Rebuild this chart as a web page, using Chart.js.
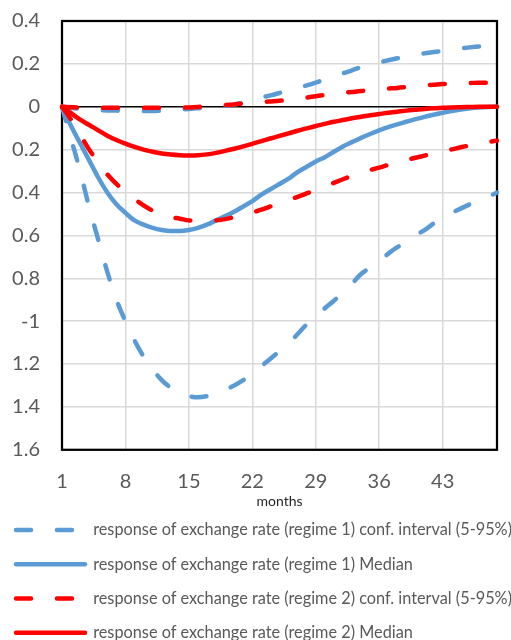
<!DOCTYPE html>
<html>
<head>
<meta charset="utf-8">
<script src="https://cdn.jsdelivr.net/npm/chart.js@4/dist/chart.umd.min.js"></script>
<style>
  html, body { margin: 0; padding: 0; background: #fff; overflow: hidden; }
  #wrap { position: absolute; left: 0; top: 0; width: 511px; height: 651px; }
</style>
</head>
<body>
<div id="wrap"><canvas id="c" width="511" height="651"></canvas></div>
<script>
// Months after the shock
const months = ['1','2','3','4','5','6','7','8','9','10','11','12','13','14','15','16','17','18','19','20',
  '21','22','23','24','25','26','27','28','29','30','31','32','33','34','35','36','37','38','39','40',
  '41','42','43','44','45','46','47','48','49'];

// Y tick labels, top to bottom, as printed on the axis
const yTickLabels = ['0.4','0.2','0','0.2','0.4','0.6','0.8','-1','1.2','1.4','1.6'];

// Regime 1: confidence band (5-95%) and median
const r1Lower = [0,-0.15,-0.30,-0.47,-0.62,-0.77,-0.90,-1.00,-1.09,-1.165,-1.225,-1.275,-1.31,-1.335,-1.35,-1.355,-1.35,-1.34,-1.32,-1.30,
  -1.275,-1.245,-1.21,-1.175,-1.14,-1.105,-1.06,-1.015,-0.98,-0.94,-0.905,-0.865,-0.825,-0.78,-0.75,-0.72,-0.685,-0.655,-0.63,-0.60,
  -0.575,-0.545,-0.52,-0.495,-0.475,-0.455,-0.44,-0.42,-0.40];
const r1Upper = [0,-0.005,-0.01,-0.012,-0.015,-0.017,-0.018,-0.02,-0.02,-0.02,-0.02,-0.018,-0.016,-0.013,-0.01,-0.007,-0.004,0,0.004,0.01,
  0.02,0.032,0.043,0.053,0.064,0.074,0.088,0.1,0.113,0.127,0.141,0.156,0.17,0.185,0.197,0.207,0.217,0.226,0.234,0.242,
  0.249,0.255,0.261,0.267,0.272,0.277,0.281,0.283,0.285];
const r1Median = [0,-0.09,-0.17,-0.25,-0.33,-0.40,-0.455,-0.495,-0.53,-0.55,-0.565,-0.575,-0.58,-0.58,-0.575,-0.565,-0.55,-0.53,-0.51,-0.49,
  -0.465,-0.44,-0.41,-0.385,-0.36,-0.335,-0.305,-0.28,-0.255,-0.235,-0.21,-0.185,-0.165,-0.145,-0.127,-0.11,-0.095,-0.082,-0.07,-0.058,
  -0.047,-0.037,-0.028,-0.02,-0.013,-0.007,-0.003,-0.001,0];

// Regime 2: confidence band (5-95%) and median
const r2Lower = [0,-0.06,-0.13,-0.2,-0.26,-0.315,-0.36,-0.395,-0.43,-0.46,-0.485,-0.505,-0.515,-0.522,-0.53,-0.533,-0.533,-0.53,-0.524,-0.515,
  -0.505,-0.493,-0.48,-0.465,-0.45,-0.435,-0.42,-0.404,-0.388,-0.372,-0.355,-0.338,-0.322,-0.307,-0.295,-0.284,-0.271,-0.259,-0.248,-0.238,
  -0.228,-0.218,-0.208,-0.199,-0.189,-0.18,-0.171,-0.164,-0.158];
const r2Upper = [0,-0.002,-0.004,-0.005,-0.005,-0.005,-0.005,-0.005,-0.005,-0.005,-0.005,-0.005,-0.005,-0.004,-0.003,-0.001,0.002,0.005,0.008,0.011,
  0.015,0.019,0.022,0.025,0.028,0.032,0.037,0.043,0.049,0.055,0.06,0.065,0.069,0.073,0.078,0.082,0.085,0.088,0.092,0.096,
  0.1,0.103,0.106,0.108,0.11,0.111,0.112,0.112,0.113];
const r2Median = [0,-0.03,-0.06,-0.085,-0.11,-0.135,-0.155,-0.172,-0.187,-0.2,-0.21,-0.218,-0.223,-0.226,-0.227,-0.226,-0.222,-0.215,-0.206,-0.196,
  -0.185,-0.173,-0.16,-0.148,-0.136,-0.124,-0.112,-0.101,-0.09,-0.08,-0.07,-0.062,-0.054,-0.047,-0.04,-0.034,-0.028,-0.023,-0.018,-0.014,
  -0.01,-0.007,-0.005,-0.003,-0.002,-0.001,0,0,0];

const BLUE = '#5B9BD5';
const RED = '#FF0000';
const DASH = [15, 26];
const FONT = 'Lato, "Open Sans", "Liberation Sans", sans-serif';
const CLEAR = 'rgba(0,0,0,0)';

const labelR1CI = 'response of exchange rate (regime 1) conf. interval (5-95%)';
const labelR1Med = 'response of exchange rate (regime 1) Median';
const labelR2CI = 'response of exchange rate (regime 2) conf. interval (5-95%)';
const labelR2Med = 'response of exchange rate (regime 2) Median';

function series(label, data, color, dashed, order, inLegend) {
  return {
    label, data,
    borderColor: color,
    backgroundColor: color,
    borderWidth: 4.5,
    borderDash: dashed ? DASH : [],
    borderCapStyle: 'round',
    borderJoinStyle: 'round',
    pointRadius: 0,
    pointHoverRadius: 0,
    cubicInterpolationMode: 'monotone',
    fill: false,
    order,
    inLegend
  };
}

// Black frame around the plot area
const plotFrame = {
  id: 'plotFrame',
  beforeDatasetsDraw(chart) {
    const { ctx, chartArea: a } = chart;
    ctx.save();
    ctx.strokeStyle = '#000';
    ctx.lineWidth = 2.25;
    ctx.strokeRect(a.left, a.top, a.right - a.left, a.bottom - a.top);
    ctx.restore();
  }
};

new Chart(document.getElementById('c'), {
  type: 'line',
  data: {
    labels: months,
    datasets: [
      series(labelR1CI, r1Lower, BLUE, true, 2, true),
      series(labelR1CI, r1Upper, BLUE, true, 2, false),
      series(labelR1Med, r1Median, BLUE, false, 2, true),
      series(labelR2CI, r2Lower, RED, true, 1, true),
      series(labelR2CI, r2Upper, RED, true, 1, false),
      series(labelR2Med, r2Median, RED, false, 1, true)
    ]
  },
  options: {
    responsive: false,
    animation: false,
    layout: { padding: { top: 21, right: 0, bottom: 0, left: -2 } },
    plugins: {
      tooltip: { enabled: false },
      legend: {
        position: 'bottom',
        align: 'start',
        labels: {
          usePointStyle: true,
          pointStyle: 'line',
          pointStyleWidth: 69,
          padding: 18,
          color: '#595959',
          font: { family: FONT, size: 16.3 },
          filter: (item, data) => data.datasets[item.datasetIndex].inLegend,
          sort: (a, b) => a.datasetIndex - b.datasetIndex,
          generateLabels(chart) {
            const items = Chart.defaults.plugins.legend.labels.generateLabels(chart);
            items.forEach(it => {
              const ds = chart.data.datasets[it.datasetIndex];
              it.lineDash = ds.borderDash;
              it.lineWidth = ds.borderWidth;
              it.strokeStyle = ds.borderColor;
              it.fillStyle = ds.borderColor;
              it.lineCap = 'round';
              it.pointStyle = 'line';
            });
            return items;
          }
        }
      }
    },
    scales: {
      x: {
        type: 'category',
        offset: false,
        border: { display: false },
        grid: {
          drawTicks: true,
          tickLength: 6,
          tickColor: CLEAR,
          lineWidth: 1.5,
          color: (c) => (c.index % 7 === 0 ? '#d9d9d9' : CLEAR)
        },
        ticks: {
          autoSkip: false,
          maxRotation: 0,
          padding: 14,
          color: '#595959',
          font: { family: FONT, size: 20 },
          callback: (v, i) => (i % 7 === 0 ? months[i] : '')
        },
        title: {
          display: true,
          text: 'months',
          color: '#262626',
          font: { family: FONT, size: 14 },
          padding: { top: 0, bottom: -6 }
        },
        afterFit: (s) => { s.height = 54; }
      },
      y: {
        min: -1.6,
        max: 0.4,
        border: { display: false },
        grid: {
          drawTicks: true,
          tickLength: 22,
          tickColor: CLEAR,
          lineWidth: 1.5,
          color: (c) => (c.tick && c.tick.value === 0 ? '#000' : '#d9d9d9')
        },
        ticks: {
          stepSize: 0.2,
          padding: 0,
          color: '#595959',
          font: { family: FONT, size: 20 },
          callback: (v, i, ticks) => yTickLabels[ticks.length - 1 - i]
        },
        afterFit: (s) => { s.width = 64; }
      }
    }
  },
  plugins: [plotFrame]
});
</script>
</body>
</html>
